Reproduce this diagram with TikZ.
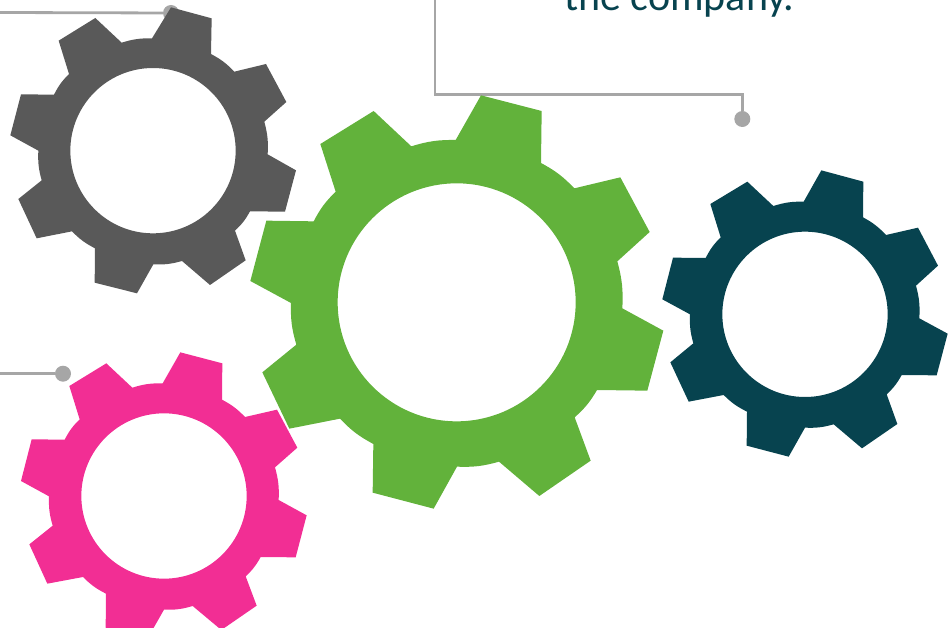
\documentclass[tikz,border=0pt]{standalone}
\usepackage{fontspec}
\setmainfont{Carlito}
\definecolor{lineg}{HTML}{A6A6A6}
\definecolor{gearteal}{HTML}{07434F}
\definecolor{geargreen}{HTML}{62B23B}
\definecolor{geargray}{HTML}{595959}
\definecolor{gearpink}{HTML}{F22E94}
\tikzset{
  leader/.style={draw=lineg,line width=2.8pt},
  dotend/.style={circle,fill=lineg,inner sep=0pt,minimum size=16pt},
  arcb/.style={bend left=9},
  gearpart/.style={even odd rule,draw=none},
  zoomed/.style={x=0.33333pt,y=-0.33333pt}
}
\newcommand{\smallhole}[2]{(#1,#2) circle[radius=248]}
\begin{document}
\begin{tikzpicture}[x=1pt,y=-1pt]
\useasboundingbox (0,0) rectangle (949,628);
\clip (0,0) rectangle (949,628);
% leaders and dots
\coordinate (c1) at (0,12.5);
\node[dotend] (d1) at (171,13) {};
\draw[leader] (c1) -- (d1);
\coordinate (c2) at (435,-2);
\node[dotend] (d2) at (742.3,119) {};
\draw[leader] (c2) |- (d2.north |- 0,94.4) -- (d2);
\coordinate (c3) at (0,373.7);
\node[dotend] (d3) at (63,373.7) {};
\draw[leader] (c3) -- (d3);
% text
\node[anchor=base west,inner sep=0pt,text=gearteal,font=\fontsize{42}{50}\selectfont] (t1) at (564,10.5) {the company.};
% gray gear
\begin{scope}[shift={(0,0)},zoomed]
\fill[geargray,gearpart] (513,22)--(635,55)--(633,162) to[arcb] (703,215)--(798,192)--(859,306)--(793,365) to[arcb] (803,463)--(888,511)--(855,635)--(750,634) to[arcb] (705,692)--(737,781)--(630,855)--(546,783) to[arcb] (460,793)--(411,880)--(284,848)--(285,745) to[arcb] (216,694)--(110,715)--(55,597)--(125,541) to[arcb] (115,452)--(31,406)--(63,283)--(162,284) to[arcb] (207,222)--(176,122)--(286,54)--(365,128) to[arcb] (456,115)--cycle \smallhole{459}{452};
\end{scope}
% teal gear
\begin{scope}[shift={(650,160)},zoomed]
\fill[gearteal,gearpart] (514,31)--(640,65)--(639,172) to[arcb] (708,225)--(804,203)--(864,317)--(798,377) to[arcb] (808,475)--(893,521)--(860,646)--(755,645) to[arcb] (710,703)--(742,792)--(636,865)--(551,793) to[arcb] (465,803)--(416,890)--(290,857)--(291,755) to[arcb] (221,705)--(116,725)--(61,607)--(130,550) to[arcb] (120,463)--(37,418)--(69,293)--(167,294) to[arcb] (212,232)--(181,132)--(292,65)--(370,138) to[arcb] (461,125)--cycle \smallhole{465}{463};
\end{scope}
% pink gear
\begin{scope}[shift={(0,340)},zoomed]
\fill[gearpink,gearpart] (541,37)--(667,70)--(666,179) to[arcb] (735,231)--(831,209)--(892,323)--(825,382) to[arcb] (836,480)--(920,526)--(887,652)--(782,651) to[arcb] (737,709)--(770,797)--(664,870)--(578,798) to[arcb] (492,809)--(443,895)--(317,863)--(318,761) to[arcb] (249,711)--(142,731)--(88,613)--(158,557) to[arcb] (147,469)--(63,423)--(95,298)--(194,299) to[arcb] (239,238)--(208,138)--(319,70)--(397,143) to[arcb] (488,130)--cycle \smallhole{492}{468};
\end{scope}
% green gear
\begin{scope}[shift={(240,85)},zoomed]
\fill[geargreen,gearpart] (723,31)--(905,78)--(903,234) to[arcb] (1003,310)--(1141,277)--(1229,441)--(1132,529) to[arcb] (1147,670)--(1270,737)--(1222,917)--(1071,915) to[arcb] (1004,997)--(1052,1127)--(898,1233)--(777,1130) to[arcb] (651,1145)--(581,1271)--(398,1223)--(400,1077) to[arcb] (300,1001)--(148,1031)--(67,862)--(169,779) to[arcb] (153,654)--(31,588)--(79,407)--(221,409) to[arcb] (287,320)--(241,177)--(401,78)--(514,184) to[arcb] (647,165)--cycle (650,652) circle[radius=357];
\end{scope}
\end{tikzpicture}
\end{document}
